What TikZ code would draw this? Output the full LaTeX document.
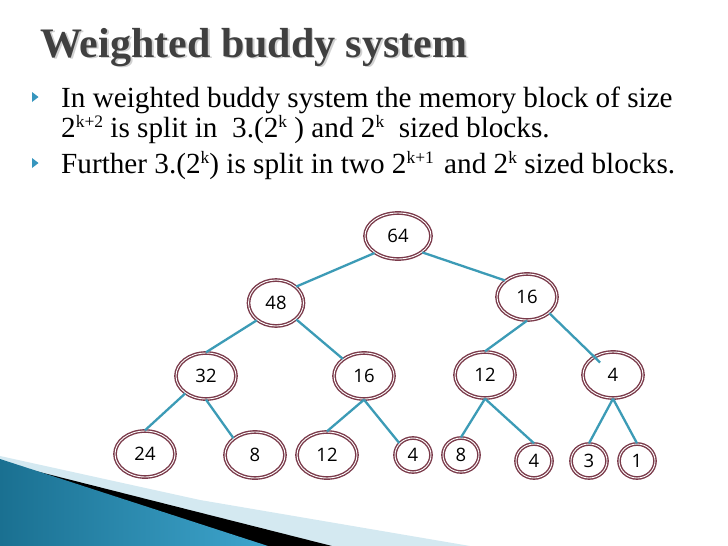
\documentclass[tikz,border=0pt]{standalone}
\usepackage{fontspec}
\setmainfont{Liberation Serif}
\newfontfamily\nodefont{Open Sans}
\usetikzlibrary{shapes.geometric}
\definecolor{ringc}{RGB}{122,58,74}
\definecolor{edgec}{RGB}{60,155,182}
\definecolor{titlec}{RGB}{64,64,64}
\definecolor{bulletc}{RGB}{55,150,190}
\definecolor{lightb}{RGB}{212,233,241}
\definecolor{blueA}{RGB}{26,112,145}
\definecolor{blueB}{RGB}{62,165,205}
\newcommand\sups[1]{\raisebox{10pt}{\fontsize{17.5}{17.5}\selectfont #1}}
\tikzset{
  ring/.style={ellipse, draw=ringc, double=white, line width=1.4pt, double distance=0.9pt,
    inner sep=0pt, minimum width=60pt, minimum height=46pt,
    font=\nodefont\fontsize{18.5}{18.5}\selectfont},
  smallring/.style={ring, minimum width=36pt, minimum height=34pt},
  edge/.style={draw=edgec, line width=2.3pt},
  bodytext/.style={anchor=base west, inner sep=0pt, font=\fontsize{29.2}{30}\selectfont},
  titletext/.style={anchor=base west, inner sep=0pt, font=\fontsize{42}{42}\selectfont\bfseries},
  bullet/.style={fill=bulletc}
}
\begin{document}
\begin{tikzpicture}[x=1pt,y=-1pt]
\useasboundingbox (0,0) rectangle (728,546);
\fill[white] (0,0) rectangle (728,546);

% title with shadow
\node[titletext, text=black!18] (tshadow) at (41.8,58.8) {Weighted buddy system};
\node[titletext, text=titlec] (title) at (40,57) {Weighted buddy system};

% bullets
\fill[bullet] (32,92) -- (38.5,97) -- (32,102) -- cycle;
\fill[bullet] (32,158) -- (38.5,163) -- (32,168) -- cycle;

% body text
\node[bodytext] (l1) at (61,107) {In weighted buddy system the memory block of size};
\node[bodytext] (l2) at (61,137) {2\sups{k+2} is split in \ 3.(2\sups{k} ) and 2\sups{k} \ sized blocks.};
\node[bodytext] (l3) at (61,173) {Further 3.(2\sups{k}) is split in two 2\sups{k+1}\hspace{3pt} and 2\sups{k} sized blocks.};

% decoration bottom-left
\fill[lightb] (0,456) -- (200,500) -- (470,546) -- (0,546) -- cycle;
\fill[black] (0,462) -- (332,546) -- (0,546) -- cycle;
\shade[left color=blueA, right color=blueB] (0,459) -- (268,546) -- (0,546) -- cycle;

% tree nodes
\node[ring, minimum width=66pt] (n64) at (398,236) {64};
\node[ring, minimum width=55pt] (n48) at (276,303) {48};
\node[ring] (n16r) at (527,297) {16};
\node[ring] (n32) at (206,376) {32};
\node[ring] (n16l) at (364,376) {16};
\node[ring] (n12) at (485,375) {12};
\node[ring] (n4) at (613,375) {4};
\node[ring] (n24) at (145,454) {24};
\node[ring] (n8) at (255,455) {8};
\node[ring] (n12b) at (327,455) {12};
\node[smallring] (n4a) at (413,455) {4};
\node[smallring] (n8b) at (461,455) {8};
\node[smallring] (n4c) at (534,461) {4};
\node[smallring] (n3) at (589,461) {3};
\node[smallring] (n1) at (637,461) {1};

% connectors
\draw[edge] (n64.216) -- (n48.39);
\draw[edge] (n64.-34) -- (n16r.143);
\draw[edge] (n48.222) -- (n32.north);
\draw[edge] (n48.-39) -- (n16l.141);
\draw[edge] (n16r.south) -- (n12.north);
\draw[edge, shorten >=18pt] (n16r.-36) -- (n4.center);
\draw[edge] (n32.220) -- (n24.north);
\draw[edge] (n32.south) -- (n8.142);
\draw[edge] (n16l.south) -- (n12b.north);
\draw[edge] (n16l.south) -- (n4a.139);
\draw[edge] (n12.south) -- (n8b.north);
\draw[edge] (n12.south) -- (n4c.north);
\draw[edge] (n4.south) -- (n3.north);
\draw[edge] (n4.south) -- (n1.north);
\end{tikzpicture}
\end{document}
